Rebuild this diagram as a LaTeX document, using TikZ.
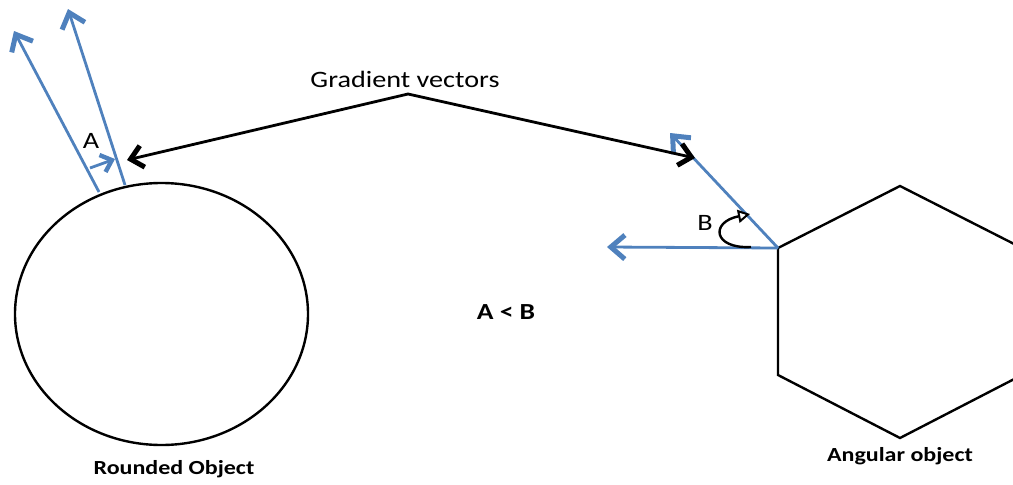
\documentclass[tikz,border=0pt]{standalone}
\usepackage{fontspec}
\setmainfont{Carlito}
\usetikzlibrary{arrows.meta, positioning}
\definecolor{vecblue}{RGB}{79,129,189}
% the reference text is drawn a little wider than the font
\newcommand{\widetext}[1]{\scalebox{1.2}[1]{#1}}

\begin{document}
\begin{tikzpicture}[x=1pt,y=-1pt,
    label text/.style={inner sep=0pt, font=\fontsize{23.5}{27}\selectfont},
    bold text/.style={inner sep=0pt, font=\fontsize{20}{24}\selectfont\bfseries},
    outline/.style={draw=black, line width=2.4pt},
    gradient/.style={draw=vecblue, line width=2.8pt, -{Straight Barb[length=14pt, width=24pt, line width=5pt]}},
    pointer/.style={draw=black, line width=2.8pt,
        {Straight Barb[length=12pt, width=22pt, line width=5pt]}-{Straight Barb[length=12pt, width=22pt, line width=5pt]}}]
    \useasboundingbox (0,0) rectangle (1013,485);
    \clip (0,0) rectangle (1013,485);

    % Rounded object
    \draw[outline] (161.5,314) ellipse [x radius=146.5, y radius=131];
    \coordinate (foot1) at (99,192);
    \coordinate (foot2) at (125,185);
    \coordinate (tip1) at (14,31);
    \coordinate (tip2) at (68,9);
    \draw[gradient] (foot1) -- (tip1);
    \draw[gradient] (foot2) -- (tip2);
    \coordinate (angA1) at (90,168);
    \coordinate (angA2) at (115,159);
    \draw[draw=vecblue, line width=2.8pt,
        -{Straight Barb[length=10pt, width=18pt, line width=4.4pt]}] (angA1) -- (angA2);
    \node[label text] (labA) at (91,141) {\widetext{A}};

    % Angular object
    \coordinate (hexT) at (900,186);
    \coordinate (hexUL) at (778,248);
    \coordinate (hexLL) at (778,375);
    \coordinate (hexB) at (900,438);
    \coordinate (hexLR) at (1022,375);
    \coordinate (hexUR) at (1022,248);
    \draw[outline] (hexT) -- (hexUL) -- (hexLL) -- (hexB) -- (hexLR) -- (hexUR) -- cycle;
    \coordinate (tip3) at (670,133);
    \coordinate (tip4) at (607,247);
    \draw[gradient] (hexUL) -- (tip3);
    \draw[gradient] (hexUL) -- (tip4);
    \coordinate (arcB1) at (751,247);
    \coordinate (arcB2) at (750,214);
    \draw[line width=2.4pt, -{Triangle[open, fill=white, length=12pt, width=13pt, line width=2pt]}]
        (arcB1) .. controls (713,249) and (710,222) .. (arcB2);
    \node[label text] (labB) at (705,223) {\widetext{B}};

    % Gradient vectors label
    \node[label text] (title) at (405,79) {\widetext{Gradient vectors}};
    \coordinate (apex) at (408,94);
    \coordinate (endL) at (127,160);
    \coordinate (endR) at (695,158);
    \draw[pointer] (endL) -- (apex) -- (endR);

    % Captions
    \node[bold text, font=\fontsize{23}{27}\selectfont\bfseries] (cmp) at (506,312) {\widetext{A < B}};
    \node[bold text] (round) at (174,469) {\widetext{Rounded Object}};
    \node[bold text] (angular) at (900,456) {\widetext{Angular object}};
\end{tikzpicture}
\end{document}
